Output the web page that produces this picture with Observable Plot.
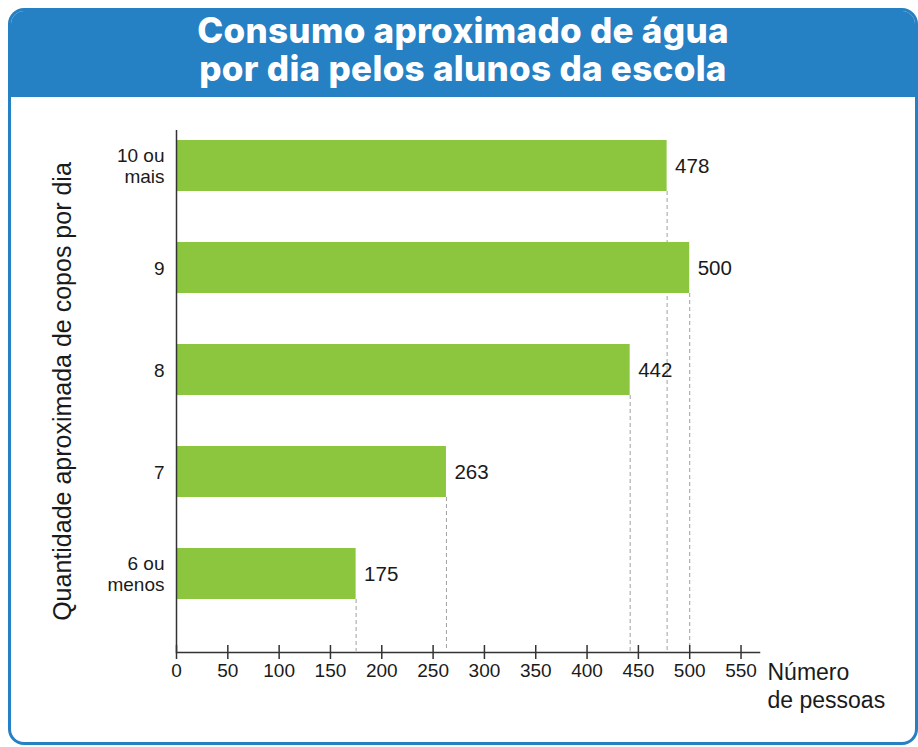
<!DOCTYPE html>
<html>
<head>
<meta charset="utf-8">
<script src="https://cdn.jsdelivr.net/npm/d3@7"></script>
<script src="https://cdn.jsdelivr.net/npm/@observablehq/plot@0.6"></script>
<style>
  html, body { margin: 0; padding: 0; background: #fff; width: 918px; height: 747px; overflow: hidden; }
  #box {
    position: absolute; left: 8px; top: 8px; width: 904px; height: 731px;
    border: 3px solid #2580c4; border-radius: 16px; overflow: hidden; background: #fff;
  }
  #header {
    position: absolute; left: 0; top: 0; right: 0; height: 86px; background: #2580c4;
    color: #fff; font-family: Inter, "Open Sans", sans-serif; font-weight: 800;
    font-size: 35px; letter-spacing: 0.3px; line-height: 38px; text-align: center; padding-top: 0px; box-sizing: border-box;
  }
  #header span { display: inline-block; white-space: nowrap; }
  #chart { position: absolute; left: 0; top: 0; }
</style>
</head>
<body>
<div id="box"><div id="header"><span id="t1">Consumo aproximado de água</span><br><span id="t2">por dia pelos alunos da escola</span></div></div>
<div id="chart"></div>
<script>
const categories = ["10 ou\nmais", "9", "8", "7", "6 ou\nmenos"];
const values = [478, 500, 442, 263, 175];
const xTicks = [0, 50, 100, 150, 200, 250, 300, 350, 400, 450, 500, 550];
const yTitle = "Quantidade aproximada de copos por dia";
const xTitle = "Número\nde pessoas";

const data = categories.map((c, i) => ({category: c, value: values[i]}));
const font = "'Liberation Sans', Arial, sans-serif";
const lastCategory = categories[categories.length - 1];

const plot = Plot.plot({
  width: 918,
  height: 747,
  marginTop: 130,
  marginBottom: 95,
  marginLeft: 176,
  marginRight: 159,
  style: {background: "transparent", fontFamily: font, color: "#1a1a1a"},
  x: {domain: [0, 568], axis: null},
  y: {domain: categories, paddingInner: 0.5, paddingOuter: 0.3026, align: 0.161, axis: null},
  marks: [
    Plot.ruleX(data, {x: "value", y1: "category", y2: () => lastCategory, insetTop: 51, insetBottom: -52, stroke: "#a0a0a0", strokeWidth: 1, strokeDasharray: "4,3"}),
    Plot.barX(data, {x: "value", y: "category", fill: "#8cc63f", insetLeft: 1}),
    Plot.text(data, {x: "value", y: "category", text: d => String(d.value), textAnchor: "start", dx: 8, fontSize: 20.5, fill: "#1a1a1a"}),
    Plot.axisY({tickSize: 0, tickPadding: 12, fontSize: 19, label: null, lineHeight: 1.12, fill: "#1a1a1a"}),
    Plot.ruleX([0], {stroke: "#333", strokeWidth: 1.5}),
    Plot.frame({anchor: "bottom", stroke: "#333", strokeWidth: 1.5}),
    Plot.axisX({ticks: xTicks, tickSize: 7, tickFormat: () => "", label: null, stroke: "#333", strokeWidth: 1.5}),
    Plot.axisX({ticks: xTicks, tickSize: -7, tickFormat: () => "", label: null, stroke: "#333", strokeWidth: 1.5}),
    Plot.axisX({ticks: xTicks, tickSize: 0, tickPadding: 11, fontSize: 19, label: null, fill: "#1a1a1a"}),
    Plot.text([xTitle], {frameAnchor: "bottom-right", dx: 8, dy: 8, textAnchor: "start", lineAnchor: "top", fontSize: 23, fill: "#1a1a1a", lineHeight: 1.22}),
    Plot.text([yTitle], {frameAnchor: "left", dx: -114, rotate: -90, textAnchor: "middle", fontSize: 25, fill: "#1a1a1a"})
  ]
});
document.getElementById("chart").appendChild(plot);
</script>
</body>
</html>
